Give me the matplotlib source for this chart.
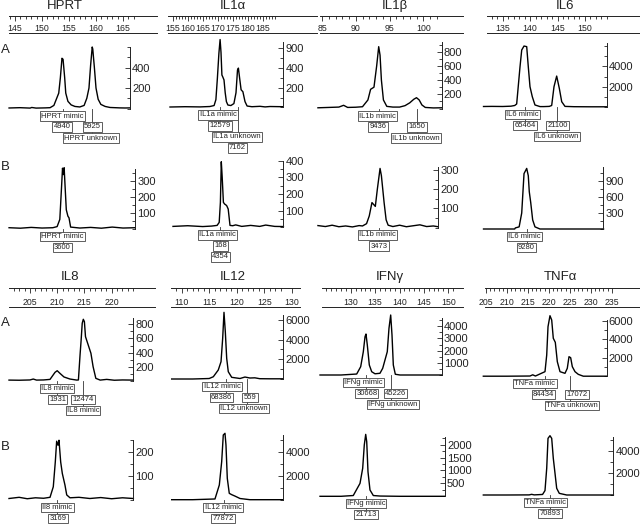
import matplotlib
matplotlib.use("Agg")
import matplotlib.pyplot as plt
from matplotlib import transforms
from matplotlib.ticker import FixedLocator, MultipleLocator

plt.rcParams['font.family'] = ['Liberation Sans', 'DejaVu Sans']

# traces: size (bp) vs fluorescence

hprt_a_bp = [143.9, 145.9, 147.8, 148.1, 148.9, 150.6, 151.5, 152.2, 152.8, 153.1, 153.4, 153.7,
             153.9, 154.2, 154.4, 154.8, 155.4, 156.1, 157.0, 157.8, 158.3, 158.7, 159.0, 159.3,
             159.4, 159.7, 160.0, 160.4, 160.9, 161.7, 162.6, 163.5, 164.4, 165.4, 166.3]
hprt_a_rfu = [5, 8, 4, 10, 4, 6, 8, 30, 110, 150, 300, 490, 480, 300, 150, 70, 35, 20, 15, 30,
              100, 200, 420, 600, 580, 400, 200, 90, 40, 20, 10, 8, 6, 5, 6]
hprt_b_bp = [143.9, 146.0, 148.0, 150.0, 152.0, 152.8, 153.3, 153.6, 153.8, 153.95, 154.1, 154.3,
             154.5, 154.8, 155.0, 155.3, 157.0, 159.0, 161.0, 163.0, 165.0, 167.2]
hprt_b_rfu = [8, 5, 10, 6, 8, 15, 60, 250, 380, 340, 383, 250, 120, 80, 70, 12, 6, 10, 5, 12, 6, 8]

il1a_a_bp = [154.1, 159.1, 164.1, 167.4, 168.8, 169.4, 169.9, 170.4, 170.8, 171.1, 171.4, 171.7,
             172.1, 172.5, 172.9, 173.4, 174.4, 175.4, 176.1, 176.6, 176.9, 177.3, 177.8, 178.4,
             179.1, 179.8, 181.4, 184.1, 185.8, 187.4, 191.8]
il1a_a_rfu = [5, 8, 6, 10, 20, 80, 300, 550, 690, 560, 330, 310, 280, 150, 60, 25, 20, 40, 150,
              380, 400, 300, 180, 160, 60, 15, 8, 12, 6, 10, 8]
il1a_b_bp = [155.1, 160.0, 165.0, 168.0, 169.8, 170.5, 170.9, 171.2, 171.5, 171.9, 172.3, 172.7,
             173.0, 173.5, 174.1, 175.0, 176.0, 178.0, 181.0, 184.0, 186.0, 189.0, 191.9]
il1a_b_rfu = [6, 10, 5, 8, 12, 30, 150, 393, 300, 150, 140, 135, 130, 110, 12, 10, 15, 6, 12, 6,
              14, 6, 5]

il1b_a_bp = [84.4, 86.0, 87.5, 88.2, 88.8, 90.0, 91.0, 91.8, 92.2, 92.7, 93.1, 93.4, 93.6, 93.8,
             94.1, 94.6, 95.5, 96.5, 97.3, 98.0, 98.6, 99.0, 99.4, 99.8, 100.3, 101.5, 102.7]
il1b_a_rfu = [10, 15, 20, 45, 15, 18, 25, 120, 270, 300, 600, 870, 750, 400, 120, 30, 20, 20, 40,
              80, 130, 152, 120, 50, 15, 8, 10]
il1b_b_bp = [84.4, 85.5, 86.5, 87.5, 88.5, 89.5, 90.5, 91.0, 91.6, 92.0, 92.4, 92.9, 93.2, 93.6,
             93.8, 94.2, 94.5, 94.8, 95.5, 96.5, 97.5, 98.5, 99.5, 100.5, 101.5, 102.2]
il1b_b_rfu = [10, 5, 12, 4, 8, 3, 10, 8, 20, 60, 130, 110, 200, 308, 270, 130, 40, 12, 5, 12, 4,
              9, 14, 5, 8, 4]

il6_a_bp = [131.5, 133.0, 135.0, 136.5, 137.2, 137.55, 138.16, 138.47, 138.89, 139.38, 139.67,
            139.98, 140.4, 140.89, 141.81, 142.5, 143.5, 143.94, 144.36, 144.85, 145.33, 145.77,
            146.37, 148.0, 151.0, 154.0]
il6_a_rfu = [50, 60, 50, 80, 150, 300, 3970, 5620, 6010, 5950, 3970, 2000, 1015, 200, 40, 40, 60,
             150, 2000, 3050, 1840, 520, 60, 30, 20, 20]
il6_b_bp = [131.5, 137.2, 137.3, 138.0, 138.47, 138.89, 139.38, 139.67, 139.85, 140.11, 140.47,
            140.89, 141.8, 153.4]
il6_b_rfu = [0, 0, 20, 40, 300, 1040, 1138, 1000, 700, 500, 170, 40, 0, 0]

il8_a_bp = [201.14, 203.0, 205.0, 205.6, 206.2, 207.5, 208.68, 209.6, 210.0, 210.5, 211.25,
            212.35, 213.6, 213.9, 214.2, 214.4, 214.6, 214.8, 215.0, 215.2, 215.7, 216.2, 216.6,
            217.1, 217.9, 219.1, 220.5, 222.0, 224.0]
il8_a_rfu = [10, 8, 12, 25, 10, 12, 20, 120, 143, 106, 54, 25, 10, 12, 366, 578, 816, 872, 838,
             626, 508, 390, 200, 35, 10, 20, 8, 12, 10]
il8_b_bp = [201.14, 203.0, 204.5, 206.0, 207.5, 208.68, 209.28, 209.65, 209.9, 210.15, 210.33,
            210.64, 210.94, 211.43, 211.75, 212.35, 214.0, 216.0, 218.0, 220.0, 222.0, 224.0]
il8_b_rfu = [5, 10, 4, 8, 6, 10, 54, 158, 245, 228, 249, 158, 110, 61, 20, 8, 10, 5, 9, 4, 8, 5]

il12_a_bp = [108.18, 112.0, 115.0, 115.75, 116.65, 117.15, 117.45, 117.69, 117.93, 118.18, 118.47,
             119.09, 120.6, 121.5, 122.4, 123.3, 124.2, 126.0, 128.47]
il12_a_rfu = [0, 0, 50, 230, 914, 1760, 4130, 6770, 4800, 2100, 740, 170, 50, 200, 100, 120, 30,
              20, 20]
il12_b_bp = [108.18, 112.0, 116.05, 116.84, 117.27, 117.56, 117.87, 118.05, 118.29, 118.65, 119.09,
             119.69, 120.6, 122.4, 128.47]
il12_b_rfu = [0, 0, 60, 1225, 3170, 5390, 5530, 4560, 1780, 530, 420, 300, 100, 0, 0]

ifng_a_bp = [123.68, 128.0, 131.21, 132.03, 132.57, 132.92, 133.12, 133.39, 133.80, 134.29, 134.97,
             135.99, 136.55, 137.02, 137.49, 137.84, 138.19, 138.46, 138.73, 139.14, 140.1, 144.0,
             148.67]
ifng_a_rfu = [0, 0, 80, 680, 1910, 3140, 3360, 2460, 820, 270, 100, 140, 550, 1230, 1910, 3830,
              4920, 3280, 820, 60, 0, 0, 0]
ifng_b_bp = [123.68, 128.0, 130.51, 131.33, 131.89, 132.44, 132.77, 133.06, 133.27, 133.53, 133.94,
             134.62, 136.0, 140.0, 149.3]
ifng_b_rfu = [0, 0, 30, 310, 500, 1085, 1990, 2400, 2115, 950, 245, 30, 10, 0, 0]

tnfa_a_bp = [204.36, 210.0, 215.5, 216.15, 216.8, 219.08, 219.49, 219.8, 220.27, 220.68, 221.06,
             221.54, 222.02, 222.66, 223.85, 224.4, 224.81, 225.21, 225.6, 226.24, 227.03, 228.22,
             233.81]
tnfa_a_rfu = [0, 0, 20, 150, 20, 490, 2290, 5350, 6540, 6075, 4100, 3660, 1570, 490, 310, 850,
              2110, 2000, 1030, 490, 200, 0, 0]
tnfa_b_bp = [204.36, 210.0, 215.3, 215.9, 216.5, 218.5, 219.08, 219.49, 219.8, 220.27, 220.68,
             221.06, 221.47, 221.87, 222.49, 224.26, 230.0, 235.4]
tnfa_b_rfu = [0, 0, 10, 60, 10, 50, 400, 2430, 5150, 5390, 5150, 3340, 1970, 610, 150, 0, 0, 0]

# boxed peak labels: (bp, row below baseline, text) and leader lines (bp, deepest row)
hprt_a_tags = [(153.8, 0, 'HPRT mimic'), (153.7, 1, '4940'), (159.35, 1, '5925'),
               (159.07, 2, 'HPRT unknown')]
hprt_a_links = [(153.8, 1), (159.3, 2)]
hprt_b_tags = [(153.8, 0, 'HPRT mimic'), (153.8, 1, '3600')]
hprt_b_links = [(153.9, 1)]
il1a_a_tags = [(170.1, 0, 'IL1a mimic'), (170.77, 1, '12579'), (176.43, 2, 'IL1a unknown'),
               (176.6, 3, '7162')]
il1a_a_links = [(170.8, 1), (176.8, 3)]
il1a_b_tags = [(169.93, 0, 'IL1a mimic'), (170.93, 1, '168'), (170.93, 2, '4354')]
il1a_b_links = [(170.93, 2)]
il1b_a_tags = [(93.22, 0, 'IL1b mimic'), (93.3, 1, '9436'), (99.07, 1, '1650'),
               (98.93, 2, 'IL1b unknown')]
il1b_a_links = [(93.5, 1), (99.03, 2)]
il1b_b_tags = [(93.22, 0, 'IL1b mimic'), (93.44, 1, '3473')]
il1b_b_links = [(93.5, 1)]
il6_a_tags = [(138.65, 0, 'IL6 mimic'), (139.07, 1, '65464'), (145.0, 1, '21100'),
              (144.85, 2, 'IL6 unknown')]
il6_a_links = [(139.07, 1), (144.85, 2)]
il6_b_tags = [(138.98, 0, 'IL6 mimic'), (139.34, 1, '9280')]
il6_b_links = [(139.38, 1)]
il8_a_tags = [(209.96, 0, 'IL8 mimic'), (210.06, 1, '1931'), (214.74, 1, '12474'),
              (214.74, 2, 'IL8 mimic')]
il8_a_links = [(210.02, 1), (214.8, 2)]
il8_b_tags = [(210.06, 0, 'Il8 mimic'), (210.15, 1, '3169')]
il8_b_links = [(210.02, 1)]
il12_a_tags = [(117.33, 0, 'IL12 mimic'), (117.27, 1, '68386'), (122.42, 1, '559'),
               (121.33, 2, 'IL12 unknown')]
il12_a_links = [(118.0, 1), (121.8, 2)]
il12_b_tags = [(117.5, 0, 'IL12 mimic'), (117.5, 1, '77872')]
il12_b_links = [(117.75, 1)]
ifng_a_tags = [(132.57, 0, 'IFNg mimic'), (133.27, 1, '30668'), (139.22, 1, '45226'),
               (138.67, 2, 'IFNg unknown')]
ifng_a_links = [(133.2, 1), (138.3, 2)]
ifng_b_tags = [(133.12, 0, 'IFNg mimic'), (133.12, 1, '21713')]
ifng_b_links = [(133.2, 1)]
tnfa_a_tags = [(216.69, 0, 'TNFa mimic'), (218.72, 1, '84434'), (226.72, 1, '17072'),
               (225.53, 2, 'TNFa unknown')]
tnfa_a_links = [(219.0, 1), (225.05, 2)]
tnfa_b_tags = [(219.2, 0, 'TNFa mimic'), (220.27, 1, '70893')]
tnfa_b_links = [(220.27, 1)]

# ruler labels (bp) and right-axis tick labels
hprt_ruler = [145, 150, 155, 160, 165]
il1a_ruler = [155, 160, 165, 170, 175, 180, 185]
il1b_ruler = [85, 90, 95, 100]
il6_ruler = [135, 140, 145, 150]
il8_ruler = [205, 210, 215, 220]
il12_ruler = [110, 115, 120, 125, 130]
ifng_ruler = [130, 135, 140, 145, 150]
tnfa_ruler = [205, 210, 215, 220, 225, 230, 235]

il1a_a_yticks = [200, 400, 600]
il1a_a_ylabels = ['200', '400', '900']

W, H = 640, 525
fig = plt.figure(figsize=(6.4, 5.25), dpi=100)
INK = '#222222'
LEVELS = [7.5, 18.5, 29.5, 40.5]


def px_axes(x0, y0, x1, y1):
    return fig.add_axes([x0 / W, 1 - y1 / H, (x1 - x0) / W, (y1 - y0) / H])


def to_bp(cal, x):
    px0, bp0, scale = cal
    return bp0 + (x - px0) / scale


def ruler(cal, box, labels, minor):
    x0, x1, y0, y1 = box
    ax = px_axes(x0, y0, x1, y1)
    ax.set_xlim(to_bp(cal, x0), to_bp(cal, x1))
    ax.set_ylim(0, 1)
    ax.set_yticks([])
    ax.patch.set_visible(False)
    for s in ['left', 'right']:
        ax.spines[s].set_visible(False)
    for s in ['top', 'bottom']:
        ax.spines[s].set_linewidth(0.7)
        ax.spines[s].set_color(INK)
    ax.xaxis.set_major_locator(FixedLocator(labels))
    ax.xaxis.set_minor_locator(FixedLocator(list(range(minor[0], minor[1] + 1))))
    ax.tick_params(axis='x', which='both', top=True, bottom=False, direction='in',
                   labeltop=False, labelbottom=True, labelsize=6.3, pad=-6.8,
                   width=0.6, color=INK, labelcolor=INK)
    ax.tick_params(axis='x', which='major', length=3.4)
    ax.tick_params(axis='x', which='minor', length=1.9)


def trace(cal, box, bp, rfu, ytop, yticks, ystep, tags, links, ylabels=None):
    x0, y0, x1, y1 = box
    ax = px_axes(x0, y0, x1, y1)
    ax.set_xlim(to_bp(cal, x0), to_bp(cal, x1))
    ax.set_ylim(0, ytop)
    ax.patch.set_visible(False)
    ax.plot(bp, rfu, color='black', lw=1.0, clip_on=False, zorder=2)
    for s in ['left', 'top', 'bottom']:
        ax.spines[s].set_visible(False)
    ax.spines['right'].set_linewidth(0.7)
    ax.spines['right'].set_color(INK)
    ax.set_xticks([])
    ax.yaxis.tick_right()
    ax.set_yticks(yticks, labels=ylabels if ylabels else [str(v) for v in yticks])
    ax.yaxis.set_minor_locator(MultipleLocator(ystep))
    ax.tick_params(axis='y', which='both', direction='in', labelsize=8, pad=1.5,
                   width=0.6, color=INK, labelcolor=INK)
    ax.tick_params(axis='y', which='major', length=3.5)
    ax.tick_params(axis='y', which='minor', length=2)

    h = y1 - y0
    tr = transforms.blended_transform_factory(ax.transData, ax.transAxes)
    for x, lev in links:
        ax.plot([x, x], [0, -LEVELS[lev] / h], transform=tr, color='#333333', lw=0.6,
                clip_on=False, zorder=1)
    for x, lev, s in tags:
        ax.text(x, -LEVELS[lev] / h, s, transform=tr, ha='center', va='center', fontsize=5.5,
                color=INK, zorder=3, clip_on=False,
                bbox=dict(boxstyle='square,pad=0.15', fc='white', ec='#444444', lw=0.6))


panels = [
    ('HPRT', (65, 6), (15, 145, 5.4), (9, 157, 16, 33), hprt_ruler, (144, 167),
     ((9, 47, 130, 108.5), hprt_a_bp, hprt_a_rfu, 600, [200, 400], 100, hprt_a_tags, hprt_a_links),
     ((9, 169, 135, 229), hprt_b_bp, hprt_b_rfu, 375, [100, 200, 300], 50, hprt_b_tags, hprt_b_links)),
    ('IL1α', (233, 6), (172.7, 155, 3.0), (168, 317, 16, 33), il1a_ruler, (155, 189),
     ((170, 42, 283.3, 107.5), il1a_a_bp, il1a_a_rfu, 665, il1a_a_yticks, 100, il1a_a_tags, il1a_a_links),
     ((173, 160.6, 283.3, 227.4), il1a_b_bp, il1a_b_rfu, 400, [100, 200, 300, 400], 50, il1a_b_tags, il1a_b_links)),
    ('IL1β', (395, 6), (322, 85, 6.75), (320, 463, 16, 33), il1b_ruler, (85, 102),
     ((320, 41.7, 441.7, 108.5), il1b_a_bp, il1b_a_rfu, 940, [200, 400, 600, 800], 100, il1b_a_tags, il1b_a_links),
     ((320, 166.7, 438.3, 227.5), il1b_b_bp, il1b_b_rfu, 317, [100, 200, 300], 50, il1b_b_tags, il1b_b_links)),
    ('IL6', (565, 6), (502.7, 135, 5.48), (487, 640, 16, 33), il6_ruler, (132, 154),
     ((483.3, 43.3, 606.7, 107), il6_a_bp, il6_a_rfu, 6280, [2000, 4000], 1000, il6_a_tags, il6_a_links),
     ((483.3, 166.7, 603.3, 229), il6_b_bp, il6_b_rfu, 1170, [300, 600, 900], 150, il6_b_tags, il6_b_links)),
    ('IL8', (70, 277), (30, 205, 5.44), (9, 155, 288, 307), il8_ruler, (201, 224),
     ((9, 318.3, 133.3, 380.8), il8_a_bp, il8_a_rfu, 886, [200, 400, 600, 800], 100, il8_a_tags, il8_a_links),
     ((9, 440, 133.3, 499.7), il8_b_bp, il8_b_rfu, 250, [100, 200], 50, il8_b_tags, il8_b_links)),
    ('IL12', (233, 277), (181.7, 110, 5.5), (171, 300, 288, 307), il12_ruler, (108, 128),
     ((171.7, 315, 283.3, 379), il12_a_bp, il12_a_rfu, 6500, [2000, 4000, 6000], 1000, il12_a_tags, il12_a_links),
     ((171.7, 435, 283.3, 499.7), il12_b_bp, il12_b_rfu, 5390, [2000, 4000], 1000, il12_b_tags, il12_b_links)),
    ('IFNγ', (390, 277), (399.5, 140, 4.87), (322, 463, 288, 307), ifng_ruler, (125, 151),
     ((320, 317.7, 441.7, 375), ifng_a_bp, ifng_a_rfu, 4700, [1000, 2000, 3000, 4000], 500, ifng_a_tags, ifng_a_links),
     ((320, 436.7, 445, 496.3), ifng_b_bp, ifng_b_rfu, 2310, [500, 1000, 1500, 2000], 250, ifng_b_tags, ifng_b_links)),
    ('TNFα', (560, 277), (486, 205, 4.19), (485, 640, 288, 307), tnfa_ruler, (205, 234),
     ((483.3, 320, 606.7, 376.2), tnfa_a_bp, tnfa_a_rfu, 6075, [2000, 4000, 6000], 1000, tnfa_a_tags, tnfa_a_links),
     ((483.3, 436.7, 613.3, 495), tnfa_b_bp, tnfa_b_rfu, 5300, [2000, 4000], 1000, tnfa_b_tags, tnfa_b_links)),
]

for title, (tx, ty), cal, rbox, rlabels, rminor, pa, pb in panels:
    fig.text(tx / W, 1 - ty / H, title, ha='center', va='center', fontsize=9.5, color=INK)
    ruler(cal, rbox, rlabels, rminor)
    for box, bp, rfu, ytop, yt, ystep, tags, links in (pa, pb):
        labels = il1a_a_ylabels if bp is il1a_a_bp else None
        trace(cal, box, bp, rfu, ytop, yt, ystep, tags, links, labels)

for letter, y in [('A', 50), ('B', 167), ('A', 323), ('B', 447)]:
    fig.text(0.5 / W, 1 - y / H, letter, ha='left', va='center', fontsize=9.5, color=INK)

fig.savefig('out.png', dpi=100)
